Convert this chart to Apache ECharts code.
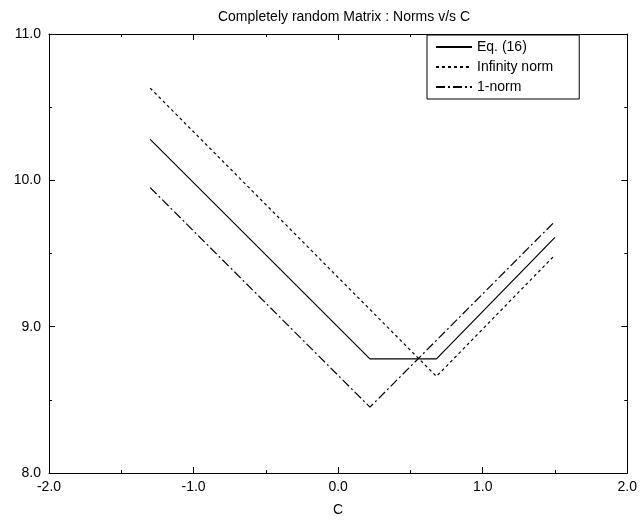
<!DOCTYPE html>
<html>
<head>
<meta charset="utf-8">
<script src="https://cdn.jsdelivr.net/npm/echarts@6/dist/echarts.min.js"></script>
<style>
  html, body { margin: 0; padding: 0; background: #fff; }
  #chart { width: 640px; height: 522px; }
</style>
</head>
<body>
<div id="chart"></div>
<script>
// data (vertices of each polyline)
var eq16X = [-1.3, 0.22, 0.68, 1.5];
var eq16Y = [10.28, 8.78, 8.78, 9.61];
var infX = [-1.3, 0.68, 1.5];
var infY = [10.63, 8.66, 9.49];
var oneX = [-1.3, 0.22, 1.5];
var oneY = [9.95, 8.45, 9.72];

var xTicks = [-2, -1, 0, 1, 2];
var yTicks = [8, 9, 10, 11];

function pairs(xs, ys) {
  var out = [];
  for (var i = 0; i < xs.length; i++) {
    out.push([xs[i], ys[i]]);
  }
  return out;
}

var font = 'Liberation Sans, Arial, sans-serif';
var chart = echarts.init(document.getElementById('chart'));

var baseAxis = {
  type: 'value',
  axisLine: { show: true, onZero: false, lineStyle: { color: '#000', width: 1 } },
  axisTick: { show: true, inside: true, length: 6, lineStyle: { color: '#000' } },
  minorTick: { show: true, splitNumber: 2, length: 3, lineStyle: { color: '#000' } },
  splitLine: { show: false },
  axisLabel: {
    color: '#000', fontFamily: font, fontSize: 14,
    formatter: function (v) { return v.toFixed(1); }
  }
};

var option = {
  backgroundColor: '#fff',
  animation: false,
  title: {
    text: 'Completely random Matrix : Norms v/s C',
    left: 339, top: 5, textAlign: 'center',
    textStyle: { fontFamily: font, fontSize: 14, fontWeight: 'normal', color: '#000' }
  },
  grid: { left: 49, right: 12, top: 34, bottom: 44 },
  legend: {
    orient: 'vertical',
    left: 427, top: 35,
    padding: [5, 26, 5, 8],
    itemGap: 6,
    itemWidth: 36, itemHeight: 14,
    backgroundColor: '#fff',
    borderColor: '#000', borderWidth: 1,
    itemStyle: { opacity: 0 },
    textStyle: { fontFamily: font, fontSize: 14, color: '#000' },
    data: ['Eq. (16)', 'Infinity norm', '1-norm']
  },
  xAxis: [
    Object.assign({}, baseAxis, {
      position: 'bottom', min: xTicks[0], max: xTicks[xTicks.length - 1], interval: 1,
      name: 'C', nameLocation: 'middle', nameGap: 30,
      nameTextStyle: { fontFamily: font, fontSize: 14, color: '#000' },
      axisLabel: Object.assign({}, baseAxis.axisLabel, { margin: 7 })
    }),
    Object.assign({}, baseAxis, {
      position: 'top', min: xTicks[0], max: xTicks[xTicks.length - 1], interval: 1,
      axisLabel: { show: false }
    })
  ],
  yAxis: [
    Object.assign({}, baseAxis, {
      position: 'left', min: yTicks[0], max: yTicks[yTicks.length - 1], interval: 1,
      axisLabel: Object.assign({}, baseAxis.axisLabel, { margin: 8 })
    }),
    Object.assign({}, baseAxis, {
      position: 'right', min: yTicks[0], max: yTicks[yTicks.length - 1], interval: 1,
      axisLabel: { show: false }
    })
  ],
  series: [
    {
      name: 'Eq. (16)', type: 'line', symbol: 'none',
      lineStyle: { color: '#000', width: 1.2, type: 'solid' },
      itemStyle: { color: '#000' },
      data: pairs(eq16X, eq16Y)
    },
    {
      name: 'Infinity norm', type: 'line', symbol: 'none',
      lineStyle: { color: '#000', width: 1.2, type: [3, 3] },
      itemStyle: { color: '#000' },
      data: pairs(infX, infY)
    },
    {
      name: '1-norm', type: 'line', symbol: 'none',
      lineStyle: { color: '#000', width: 1.2, type: [9, 3, 2, 3] },
      itemStyle: { color: '#000' },
      data: pairs(oneX, oneY)
    }
  ]
};

chart.setOption(option);
</script>
</body>
</html>
